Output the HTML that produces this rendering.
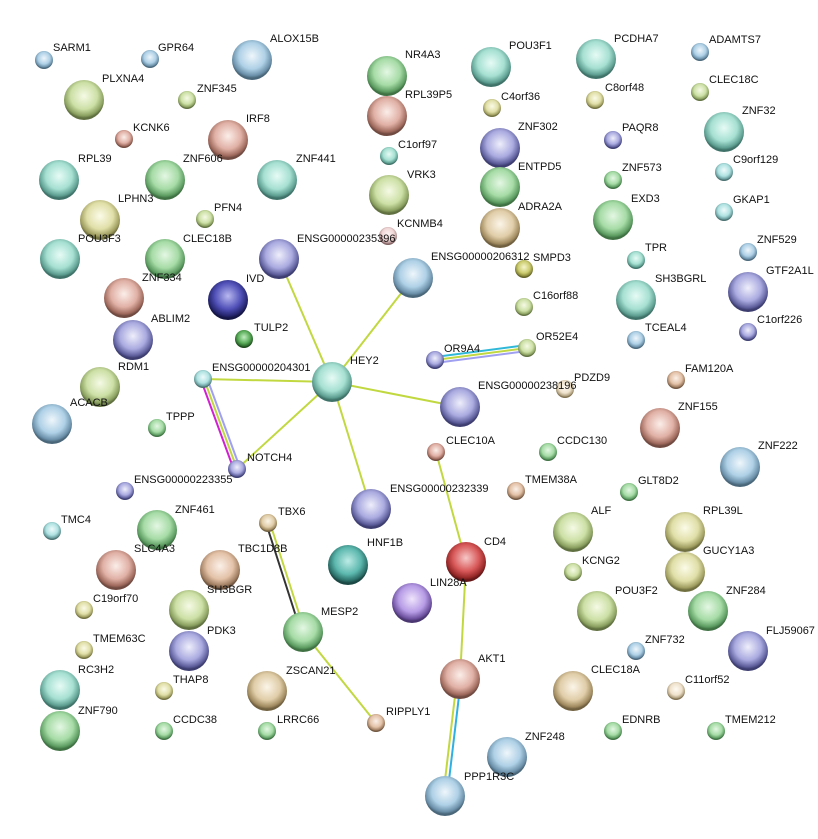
<!DOCTYPE html>
<html><head><meta charset="utf-8"><style>
html,body{margin:0;padding:0;background:#fff;width:818px;height:839px;overflow:hidden}
svg text{font-family:"Liberation Sans",sans-serif;font-size:11px;fill:#111}
</style></head><body>
<svg width="818" height="839" viewBox="0 0 818 839" xmlns="http://www.w3.org/2000/svg">
<defs>
<radialGradient id="teal" cx="50%" cy="40%" r="55%"><stop offset="0" stop-color="#e6fbf5"/><stop offset="0.6" stop-color="#a6e0d2"/><stop offset="0.9" stop-color="#5e9f92"/><stop offset="1" stop-color="#3f7268"/></radialGradient>
<radialGradient id="green" cx="50%" cy="40%" r="55%"><stop offset="0" stop-color="#e3f7e3"/><stop offset="0.6" stop-color="#a6dba6"/><stop offset="0.9" stop-color="#5d9d62"/><stop offset="1" stop-color="#3f7143"/></radialGradient>
<radialGradient id="blue" cx="50%" cy="40%" r="55%"><stop offset="0" stop-color="#eef6fb"/><stop offset="0.6" stop-color="#aed0e6"/><stop offset="0.9" stop-color="#6a8fa8"/><stop offset="1" stop-color="#4a677a"/></radialGradient>
<radialGradient id="purple" cx="50%" cy="40%" r="55%"><stop offset="0" stop-color="#eeeefb"/><stop offset="0.6" stop-color="#aaaae0"/><stop offset="0.9" stop-color="#5e5e9c"/><stop offset="1" stop-color="#3d3d70"/></radialGradient>
<radialGradient id="salmon" cx="50%" cy="40%" r="55%"><stop offset="0" stop-color="#fbeee9"/><stop offset="0.6" stop-color="#e0b0a5"/><stop offset="0.9" stop-color="#a06a5e"/><stop offset="1" stop-color="#704a40"/></radialGradient>
<radialGradient id="olive" cx="50%" cy="40%" r="55%"><stop offset="0" stop-color="#f5fae5"/><stop offset="0.6" stop-color="#cde0a6"/><stop offset="0.9" stop-color="#8aa060"/><stop offset="1" stop-color="#607040"/></radialGradient>
<radialGradient id="yellow" cx="50%" cy="40%" r="55%"><stop offset="0" stop-color="#fbfbe8"/><stop offset="0.6" stop-color="#e0dfa8"/><stop offset="0.9" stop-color="#a09e60"/><stop offset="1" stop-color="#707040"/></radialGradient>
<radialGradient id="tan" cx="50%" cy="40%" r="55%"><stop offset="0" stop-color="#fbf5e8"/><stop offset="0.6" stop-color="#e0cda8"/><stop offset="0.9" stop-color="#a08a60"/><stop offset="1" stop-color="#706040"/></radialGradient>
<radialGradient id="peach" cx="50%" cy="40%" r="55%"><stop offset="0" stop-color="#fbf0e8"/><stop offset="0.6" stop-color="#e3c2a8"/><stop offset="0.9" stop-color="#a07e62"/><stop offset="1" stop-color="#705640"/></radialGradient>
<radialGradient id="cream" cx="50%" cy="40%" r="55%"><stop offset="0" stop-color="#fffaf2"/><stop offset="0.6" stop-color="#efe2cc"/><stop offset="0.9" stop-color="#b0a080"/><stop offset="1" stop-color="#807050"/></radialGradient>
<radialGradient id="navy" cx="50%" cy="40%" r="55%"><stop offset="0" stop-color="#b8b8f0"/><stop offset="0.6" stop-color="#5050b8"/><stop offset="0.9" stop-color="#25256e"/><stop offset="1" stop-color="#151545"/></radialGradient>
<radialGradient id="red" cx="50%" cy="40%" r="55%"><stop offset="0" stop-color="#f7c8c8"/><stop offset="0.6" stop-color="#d85858"/><stop offset="0.9" stop-color="#962828"/><stop offset="1" stop-color="#661818"/></radialGradient>
<radialGradient id="dteal" cx="50%" cy="40%" r="55%"><stop offset="0" stop-color="#bdebe6"/><stop offset="0.6" stop-color="#5cb8ae"/><stop offset="0.9" stop-color="#2b6e68"/><stop offset="1" stop-color="#1b4844"/></radialGradient>
<radialGradient id="dgreen" cx="50%" cy="40%" r="55%"><stop offset="0" stop-color="#c0eec0"/><stop offset="0.6" stop-color="#5cae5c"/><stop offset="0.9" stop-color="#2e6e2e"/><stop offset="1" stop-color="#1c481c"/></radialGradient>
<radialGradient id="violet" cx="50%" cy="40%" r="55%"><stop offset="0" stop-color="#efe4fb"/><stop offset="0.6" stop-color="#b79ce6"/><stop offset="0.9" stop-color="#6e52a0"/><stop offset="1" stop-color="#4a3670"/></radialGradient>
<radialGradient id="pink" cx="50%" cy="40%" r="55%"><stop offset="0" stop-color="#fff4f4"/><stop offset="0.6" stop-color="#f0d6d6"/><stop offset="0.9" stop-color="#b09090"/><stop offset="1" stop-color="#806060"/></radialGradient>
<radialGradient id="lteal" cx="50%" cy="40%" r="55%"><stop offset="0" stop-color="#eefbfb"/><stop offset="0.6" stop-color="#b0e2e2"/><stop offset="0.9" stop-color="#6a9e9e"/><stop offset="1" stop-color="#4a7070"/></radialGradient>
<radialGradient id="dyellow" cx="50%" cy="40%" r="55%"><stop offset="0" stop-color="#f5f5cc"/><stop offset="0.6" stop-color="#cccc70"/><stop offset="0.9" stop-color="#8a8a3a"/><stop offset="1" stop-color="#606028"/></radialGradient>
</defs>

<g fill="none" stroke-width="2">
<line x1="332" y1="382" x2="279" y2="259" stroke="#c2d840"/>
<line x1="332" y1="382" x2="413" y2="278" stroke="#c2d840"/>
<line x1="332" y1="382" x2="460" y2="407" stroke="#c2d840"/>
<line x1="332" y1="382" x2="203" y2="379" stroke="#c2d840"/>
<line x1="332" y1="382" x2="237" y2="469" stroke="#c2d840"/>
<line x1="332" y1="382" x2="371" y2="509" stroke="#c2d840"/>
<line x1="201" y1="380" x2="234" y2="470" stroke="#d020d0"/>
<line x1="204" y1="379" x2="237" y2="469" stroke="#c2d840"/>
<line x1="207" y1="378" x2="240" y2="468" stroke="#a0a0f0"/>
<line x1="435" y1="357" x2="527" y2="345" stroke="#30b8d8"/>
<line x1="435" y1="360" x2="527" y2="348" stroke="#c2d840"/>
<line x1="435" y1="363" x2="527" y2="351" stroke="#a0a0f0"/>
<line x1="436" y1="452" x2="466" y2="562" stroke="#c2d840"/>
<line x1="466" y1="562" x2="460" y2="679" stroke="#c2d840"/>
<line x1="457" y1="679" x2="443" y2="797" stroke="#c2d840"/>
<line x1="461" y1="679" x2="447" y2="797" stroke="#30b0e0"/>
<line x1="266" y1="523" x2="301" y2="632" stroke="#333"/>
<line x1="270" y1="523" x2="305" y2="632" stroke="#c2d840"/>
<line x1="303" y1="632" x2="376" y2="723" stroke="#c2d840"/>
</g>

<g stroke-width="0.6">
<circle cx="44" cy="60" r="9" fill="url(#blue)"/>
<circle cx="150" cy="59" r="9" fill="url(#blue)"/>
<circle cx="252" cy="60" r="20" fill="url(#blue)"/>
<circle cx="84" cy="100" r="20" fill="url(#olive)"/>
<circle cx="187" cy="100" r="9" fill="url(#olive)"/>
<circle cx="124" cy="139" r="9" fill="url(#salmon)"/>
<circle cx="228" cy="140" r="20" fill="url(#salmon)"/>
<circle cx="59" cy="180" r="20" fill="url(#teal)"/>
<circle cx="165" cy="180" r="20" fill="url(#green)"/>
<circle cx="277" cy="180" r="20" fill="url(#teal)"/>
<circle cx="100" cy="220" r="20" fill="url(#yellow)"/>
<circle cx="205" cy="219" r="9" fill="url(#olive)"/>
<circle cx="60" cy="259" r="20" fill="url(#teal)"/>
<circle cx="165" cy="259" r="20" fill="url(#green)"/>
<circle cx="124" cy="298" r="20" fill="url(#salmon)"/>
<circle cx="279" cy="259" r="20" fill="url(#purple)"/>
<circle cx="228" cy="300" r="20" fill="url(#navy)"/>
<circle cx="244" cy="339" r="9" fill="url(#dgreen)"/>
<circle cx="133" cy="340" r="20" fill="url(#purple)"/>
<circle cx="100" cy="387" r="20" fill="url(#olive)"/>
<circle cx="203" cy="379" r="9" fill="url(#lteal)"/>
<circle cx="332" cy="382" r="20" fill="url(#teal)"/>
<circle cx="157" cy="428" r="9" fill="url(#green)"/>
<circle cx="52" cy="424" r="20" fill="url(#blue)"/>
<circle cx="237" cy="469" r="9" fill="url(#purple)"/>
<circle cx="125" cy="491" r="9" fill="url(#purple)"/>
<circle cx="52" cy="531" r="9" fill="url(#lteal)"/>
<circle cx="157" cy="530" r="20" fill="url(#green)"/>
<circle cx="268" cy="523" r="9" fill="url(#tan)"/>
<circle cx="116" cy="570" r="20" fill="url(#salmon)"/>
<circle cx="220" cy="570" r="20" fill="url(#peach)"/>
<circle cx="84" cy="610" r="9" fill="url(#yellow)"/>
<circle cx="189" cy="610" r="20" fill="url(#olive)"/>
<circle cx="84" cy="650" r="9" fill="url(#yellow)"/>
<circle cx="189" cy="651" r="20" fill="url(#purple)"/>
<circle cx="303" cy="632" r="20" fill="url(#green)"/>
<circle cx="60" cy="690" r="20" fill="url(#teal)"/>
<circle cx="164" cy="691" r="9" fill="url(#yellow)"/>
<circle cx="267" cy="691" r="20" fill="url(#tan)"/>
<circle cx="60" cy="731" r="20" fill="url(#green)"/>
<circle cx="164" cy="731" r="9" fill="url(#green)"/>
<circle cx="267" cy="731" r="9" fill="url(#green)"/>
<circle cx="376" cy="723" r="9" fill="url(#peach)"/>
<circle cx="387" cy="76" r="20" fill="url(#green)"/>
<circle cx="387" cy="116" r="20" fill="url(#salmon)"/>
<circle cx="389" cy="156" r="9" fill="url(#teal)"/>
<circle cx="389" cy="195" r="20" fill="url(#olive)"/>
<circle cx="388" cy="236" r="9" fill="url(#pink)"/>
<circle cx="413" cy="278" r="20" fill="url(#blue)"/>
<circle cx="491" cy="67" r="20" fill="url(#teal)"/>
<circle cx="492" cy="108" r="9" fill="url(#yellow)"/>
<circle cx="500" cy="148" r="20" fill="url(#purple)"/>
<circle cx="500" cy="187" r="20" fill="url(#green)"/>
<circle cx="500" cy="228" r="20" fill="url(#tan)"/>
<circle cx="524" cy="269" r="9" fill="url(#dyellow)"/>
<circle cx="524" cy="307" r="9" fill="url(#olive)"/>
<circle cx="435" cy="360" r="9" fill="url(#purple)"/>
<circle cx="527" cy="348" r="9" fill="url(#olive)"/>
<circle cx="565" cy="389" r="9" fill="url(#cream)"/>
<circle cx="460" cy="407" r="20" fill="url(#purple)"/>
<circle cx="436" cy="452" r="9" fill="url(#salmon)"/>
<circle cx="548" cy="452" r="9" fill="url(#green)"/>
<circle cx="516" cy="491" r="9" fill="url(#peach)"/>
<circle cx="371" cy="509" r="20" fill="url(#purple)"/>
<circle cx="348" cy="565" r="20" fill="url(#dteal)"/>
<circle cx="466" cy="562" r="20" fill="url(#red)"/>
<circle cx="412" cy="603" r="20" fill="url(#violet)"/>
<circle cx="460" cy="679" r="20" fill="url(#salmon)"/>
<circle cx="507" cy="757" r="20" fill="url(#blue)"/>
<circle cx="445" cy="796" r="20" fill="url(#blue)"/>
<circle cx="596" cy="59" r="20" fill="url(#teal)"/>
<circle cx="700" cy="52" r="9" fill="url(#blue)"/>
<circle cx="595" cy="100" r="9" fill="url(#yellow)"/>
<circle cx="700" cy="92" r="9" fill="url(#olive)"/>
<circle cx="613" cy="140" r="9" fill="url(#purple)"/>
<circle cx="724" cy="132" r="20" fill="url(#teal)"/>
<circle cx="613" cy="180" r="9" fill="url(#green)"/>
<circle cx="724" cy="172" r="9" fill="url(#lteal)"/>
<circle cx="613" cy="220" r="20" fill="url(#green)"/>
<circle cx="724" cy="212" r="9" fill="url(#lteal)"/>
<circle cx="748" cy="252" r="9" fill="url(#blue)"/>
<circle cx="636" cy="260" r="9" fill="url(#teal)"/>
<circle cx="748" cy="292" r="20" fill="url(#purple)"/>
<circle cx="636" cy="300" r="20" fill="url(#teal)"/>
<circle cx="748" cy="332" r="9" fill="url(#purple)"/>
<circle cx="636" cy="340" r="9" fill="url(#blue)"/>
<circle cx="676" cy="380" r="9" fill="url(#peach)"/>
<circle cx="660" cy="428" r="20" fill="url(#salmon)"/>
<circle cx="740" cy="467" r="20" fill="url(#blue)"/>
<circle cx="629" cy="492" r="9" fill="url(#green)"/>
<circle cx="573" cy="532" r="20" fill="url(#olive)"/>
<circle cx="685" cy="532" r="20" fill="url(#yellow)"/>
<circle cx="573" cy="572" r="9" fill="url(#olive)"/>
<circle cx="685" cy="572" r="20" fill="url(#yellow)"/>
<circle cx="597" cy="611" r="20" fill="url(#olive)"/>
<circle cx="708" cy="611" r="20" fill="url(#green)"/>
<circle cx="636" cy="651" r="9" fill="url(#blue)"/>
<circle cx="748" cy="651" r="20" fill="url(#purple)"/>
<circle cx="573" cy="691" r="20" fill="url(#tan)"/>
<circle cx="676" cy="691" r="9" fill="url(#cream)"/>
<circle cx="613" cy="731" r="9" fill="url(#green)"/>
<circle cx="716" cy="731" r="9" fill="url(#green)"/>
</g>

<g>
<text x="53" y="51">SARM1</text>
<text x="158" y="51">GPR64</text>
<text x="270" y="42">ALOX15B</text>
<text x="102" y="82">PLXNA4</text>
<text x="197" y="92">ZNF345</text>
<text x="133" y="131">KCNK6</text>
<text x="246" y="122">IRF8</text>
<text x="78" y="162">RPL39</text>
<text x="183" y="162">ZNF606</text>
<text x="296" y="162">ZNF441</text>
<text x="118" y="202">LPHN3</text>
<text x="214" y="211">PFN4</text>
<text x="78" y="242">POU3F3</text>
<text x="183" y="242">CLEC18B</text>
<text x="142" y="281">ZNF334</text>
<text x="297" y="242">ENSG00000235396</text>
<text x="246" y="282">IVD</text>
<text x="254" y="331">TULP2</text>
<text x="151" y="322">ABLIM2</text>
<text x="118" y="370">RDM1</text>
<text x="212" y="371">ENSG00000204301</text>
<text x="350" y="364">HEY2</text>
<text x="166" y="420">TPPP</text>
<text x="70" y="406">ACACB</text>
<text x="247" y="461">NOTCH4</text>
<text x="134" y="483">ENSG00000223355</text>
<text x="61" y="523">TMC4</text>
<text x="175" y="513">ZNF461</text>
<text x="278" y="515">TBX6</text>
<text x="134" y="552">SLC4A3</text>
<text x="238" y="552">TBC1D8B</text>
<text x="93" y="602">C19orf70</text>
<text x="207" y="593">SH3BGR</text>
<text x="93" y="642">TMEM63C</text>
<text x="207" y="634">PDK3</text>
<text x="321" y="615">MESP2</text>
<text x="78" y="673">RC3H2</text>
<text x="173" y="683">THAP8</text>
<text x="286" y="674">ZSCAN21</text>
<text x="78" y="714">ZNF790</text>
<text x="173" y="723">CCDC38</text>
<text x="277" y="723">LRRC66</text>
<text x="386" y="715">RIPPLY1</text>
<text x="405" y="58">NR4A3</text>
<text x="405" y="98">RPL39P5</text>
<text x="398" y="148">C1orf97</text>
<text x="407" y="178">VRK3</text>
<text x="397" y="227">KCNMB4</text>
<text x="431" y="260">ENSG00000206312</text>
<text x="509" y="49">POU3F1</text>
<text x="501" y="100">C4orf36</text>
<text x="518" y="130">ZNF302</text>
<text x="518" y="170">ENTPD5</text>
<text x="518" y="210">ADRA2A</text>
<text x="533" y="261">SMPD3</text>
<text x="533" y="299">C16orf88</text>
<text x="444" y="352">OR9A4</text>
<text x="536" y="340">OR52E4</text>
<text x="574" y="381">PDZD9</text>
<text x="478" y="389">ENSG00000238196</text>
<text x="446" y="444">CLEC10A</text>
<text x="557" y="444">CCDC130</text>
<text x="525" y="483">TMEM38A</text>
<text x="390" y="492">ENSG00000232339</text>
<text x="367" y="546">HNF1B</text>
<text x="484" y="545">CD4</text>
<text x="430" y="586">LIN28A</text>
<text x="478" y="662">AKT1</text>
<text x="525" y="740">ZNF248</text>
<text x="464" y="780">PPP1R3C</text>
<text x="614" y="42">PCDHA7</text>
<text x="709" y="43">ADAMTS7</text>
<text x="605" y="91">C8orf48</text>
<text x="709" y="83">CLEC18C</text>
<text x="622" y="131">PAQR8</text>
<text x="742" y="114">ZNF32</text>
<text x="622" y="171">ZNF573</text>
<text x="733" y="163">C9orf129</text>
<text x="631" y="202">EXD3</text>
<text x="733" y="203">GKAP1</text>
<text x="757" y="243">ZNF529</text>
<text x="645" y="251">TPR</text>
<text x="766" y="274">GTF2A1L</text>
<text x="655" y="282">SH3BGRL</text>
<text x="757" y="323">C1orf226</text>
<text x="645" y="331">TCEAL4</text>
<text x="685" y="372">FAM120A</text>
<text x="678" y="410">ZNF155</text>
<text x="758" y="449">ZNF222</text>
<text x="638" y="484">GLT8D2</text>
<text x="591" y="514">ALF</text>
<text x="703" y="514">RPL39L</text>
<text x="582" y="564">KCNG2</text>
<text x="703" y="554">GUCY1A3</text>
<text x="615" y="594">POU3F2</text>
<text x="726" y="594">ZNF284</text>
<text x="645" y="643">ZNF732</text>
<text x="766" y="634">FLJ59067</text>
<text x="591" y="673">CLEC18A</text>
<text x="685" y="683">C11orf52</text>
<text x="622" y="723">EDNRB</text>
<text x="725" y="723">TMEM212</text>
</g>
</svg>
</body></html>
